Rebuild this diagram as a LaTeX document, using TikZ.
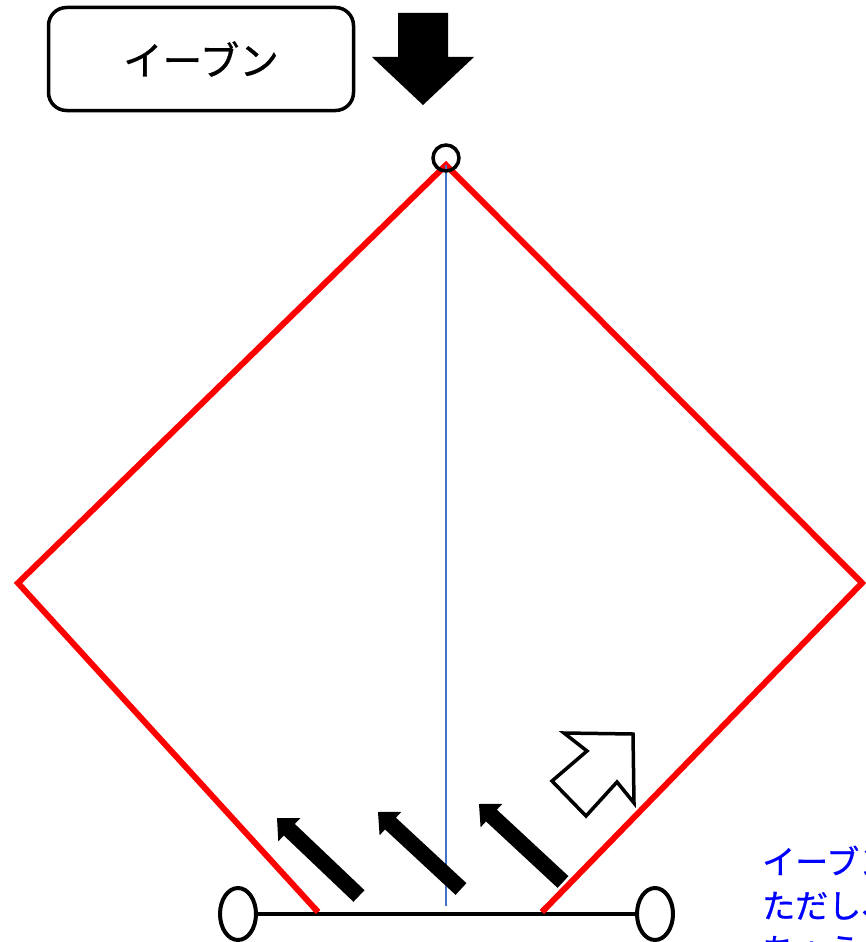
\documentclass[tikz,border=0pt]{standalone}
\usepackage{fontspec}
\newfontfamily\jp[FakeBold=0.8]{Noto Sans CJK JP}
\usetikzlibrary{calc,shapes.geometric}
\definecolor{diamondred}{RGB}{255,0,0}
\definecolor{axisblue}{RGB}{68,114,196}
\definecolor{textblue}{RGB}{0,0,255}
\tikzset{
  labelbox/.style={draw,line width=3.5pt,rounded corners=18pt,minimum width=305pt,minimum height=103pt,inner sep=0pt,font=\jp\fontsize{39.5}{44}\selectfont},
  redline/.style={draw=diamondred,line width=6pt,line join=miter},
  axisline/.style={draw=axisblue,line width=1.5pt},
  baseline/.style={draw,line width=3.5pt},
  basecircle/.style={draw,ellipse,line width=4pt,minimum width=36pt,minimum height=52pt,inner sep=0pt},
  topcircle/.style={draw,circle,line width=3.5pt,minimum size=26pt,inner sep=0pt},
  bluetext/.style={text=textblue,anchor=base west,inner sep=0pt,font=\jp\fontsize{33}{38}\selectfont},
  hollow/.style={draw,fill=white,line width=3.5pt,line join=miter},
}
\newcommand{\blkarrow}[3]{%
  \coordinate (#3b) at ($(#2)!17pt!(#1)$);
  \fill ($(#1)!8pt!90:(#2)$) -- ($(#3b)!8pt!90:(#2)$) -- ($(#3b)!16pt!90:(#2)$) -- (#2)
     -- ($(#3b)!16pt!-90:(#2)$) -- ($(#3b)!8pt!-90:(#2)$) -- ($(#1)!8pt!-90:(#2)$) -- cycle;}
\begin{document}
\begin{tikzpicture}[x=1pt,y=-1pt]
\useasboundingbox (0,0) rectangle (866,942);
\fill[white] (0,0) rectangle (866,942);

% label and down arrow
\node[labelbox] (lbl) at (201,59) {イーブン};
\coordinate (d1) at (398,13);
\fill (d1) -- (448,13) -- (448,57) -- (474,57) -- (423,105) -- (372,57) -- (398,57) -- cycle;

% field
\coordinate (vL) at (18,583);
\coordinate (vT) at (446,165);
\coordinate (vR) at (862,583);
\coordinate (eL) at (318,912);
\coordinate (eR) at (542,912);
\path[redline] (eL) -- (vL) -- (vT) -- (vR) -- (eR);
\coordinate (axB) at (446,906);
\path[axisline] (vT) -- (axB);
\node[topcircle] (top) at (446,158) {};

% base line and ellipses
\node[basecircle] (cL) at (238,914) {};
\node[basecircle] (cR) at (655,914) {};
\path[baseline] (cL.east) -- (cR.west);
\path[redline] (eL) -- ($(eL)!6pt!(vL)$);
\path[redline] (eR) -- ($(eR)!6pt!(vR)$);

% black arrows
\coordinate (a1t) at (359,896); \coordinate (a1p) at (277,818);
\coordinate (a2t) at (461,889); \coordinate (a2p) at (378,812);
\coordinate (a3t) at (563,882); \coordinate (a3p) at (479,804);
\blkarrow{a1t}{a1p}{a1}
\blkarrow{a2t}{a2p}{a2}
\blkarrow{a3t}{a3p}{a3}

% hollow arrow
\coordinate (h0) at (633,734);
\path[hollow] (h0) -- (564,733) -- (587,751) -- (552,781) -- (586,816) -- (617,782) -- (634,803) -- cycle;

% blue note (clipped at the right edge, as in the reference)
\node[bluetext] (n1) at (762,874) {イーブン、};
\node[bluetext] (n2) at (762,918) {ただし、};
\node[bluetext] (n3) at (762,962) {ちょうど};
\end{tikzpicture}
\end{document}
